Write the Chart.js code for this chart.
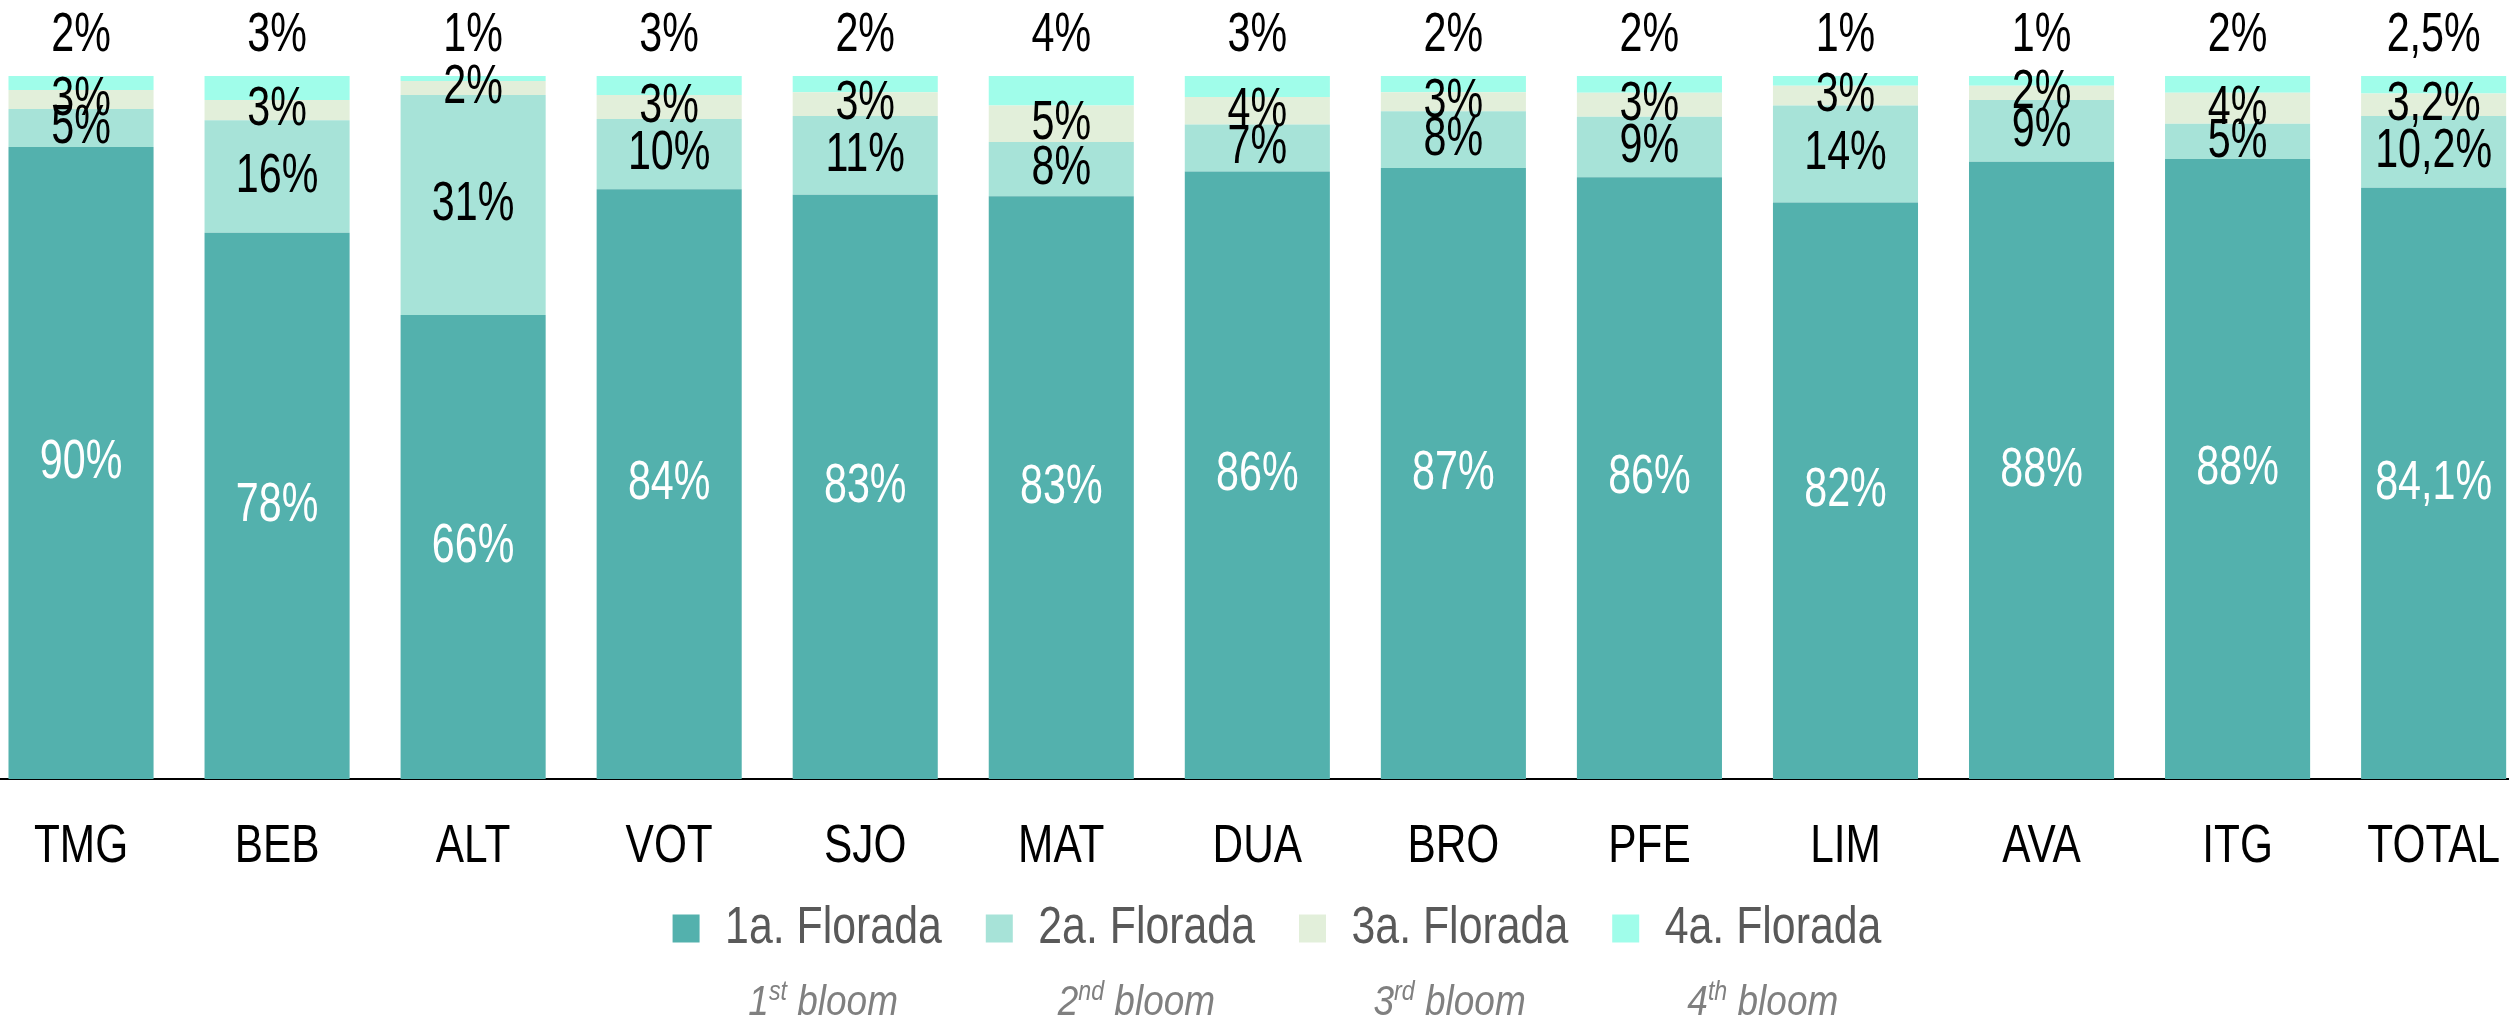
<!DOCTYPE html>
<html><head><meta charset="utf-8">
<script src="https://cdn.jsdelivr.net/npm/chart.js@4.4.1/dist/chart.umd.min.js"></script>
<style>
html,body{margin:0;padding:0;background:#fff;overflow:hidden;width:2509px;height:1020px;}
#wrap{position:absolute;left:-17px;top:0;width:2554px;height:1020px;}
</style></head><body>
<div id="wrap"><canvas id="c"></canvas></div>
<script>
const categories = ['TMG','BEB','ALT','VOT','SJO','MAT','DUA','BRO','PFE','LIM','AVA','ITG','TOTAL'];
const florada1 = [89.9,77.7,66.0,83.9,83.1,82.9,86.4,86.9,85.6,82.0,87.8,88.2,84.1];
const florada2 = [5.4,16.0,31.3,10.0,11.2,7.7,6.7,8.1,8.6,13.8,8.8,5.0,10.2];
const florada3 = [2.7,2.9,2.0,3.4,3.4,5.2,3.9,2.7,3.4,2.8,2.0,4.4,3.2];
const florada4 = [2.0,3.4,0.7,2.7,2.3,4.2,3.0,2.3,2.4,1.4,1.4,2.4,2.5];
const seriesNames = ['1a. Florada','2a. Florada','3a. Florada','4a. Florada'];
const bloomNumbers = ['1','2','3','4'];
const bloomSuffixes = ['st','nd','rd','th'];
const bloomWord = 'bloom';

const COLORS = ['#53B1AD','#A7E3D8','#E2EFDA','#A0FDEA'];
const LABEL_COLORS = ['#FFFFFF','#000000','#000000','#000000'];
const FONT = "'Liberation Sans',Arial,sans-serif";
// horizontal condensing per font size (to mimic the narrow typeface)
const SCALE_BY_SIZE = { 55: 0.75, 53: 0.80, 51: 0.84, 43: 0.86, 27: 0.86 };

const canvas = document.getElementById('c');
const c2d = canvas.getContext('2d');
const origFill = c2d.fillText.bind(c2d);
const origMeasure = c2d.measureText.bind(c2d);
function curScale(ctx){
  const m = /(\d+(?:\.\d+)?)px/.exec(ctx.font);
  const s = m ? Math.round(parseFloat(m[1])) : 0;
  return SCALE_BY_SIZE[s] || 0.8;
}
c2d.fillText = function(t, x, y){
  const sx = curScale(this);
  this.save();
  this.translate(x, y);
  this.scale(sx, 1);
  origFill(t, 0, 0);
  this.restore();
};
c2d.measureText = function(t){
  const sx = curScale(this);
  const m = origMeasure(t);
  return {
    width: m.width * sx,
    actualBoundingBoxAscent: m.actualBoundingBoxAscent,
    actualBoundingBoxDescent: m.actualBoundingBoxDescent,
    actualBoundingBoxLeft: m.actualBoundingBoxLeft * sx,
    actualBoundingBoxRight: m.actualBoundingBoxRight * sx,
    fontBoundingBoxAscent: m.fontBoundingBoxAscent,
    fontBoundingBoxDescent: m.fontBoundingBoxDescent
  };
};

function fmt(v, cat){
  if (cat === 'TOTAL') return v.toFixed(1).replace('.', ',') + '%';
  return Math.round(v) + '%';
}

const labelPlugin = {
  id: 'segLabels',
  afterDatasetsDraw(chart){
    const ctx = chart.ctx;
    ctx.save();
    ctx.font = '55px ' + FONT;
    ctx.textAlign = 'center';
    ctx.textBaseline = 'middle';
    chart.data.datasets.forEach((ds, di) => {
      const meta = chart.getDatasetMeta(di);
      meta.data.forEach((bar, i) => {
        const v = ds.data[i];
        let y;
        if (di === 3) y = bar.y - 40;
        else y = (bar.y + bar.base) / 2;
        ctx.fillStyle = LABEL_COLORS[di];
        ctx.fillText(fmt(v, categories[i]), bar.x, y);
      });
    });
    ctx.restore();
  }
};

// move the legend up (closer under the axis labels) and slightly right
const LEGEND_SHIFT_Y = 56;
const LEGEND_SHIFT_X = 17;
const legendShift = {
  id: 'legendShift',
  afterLayout(chart){
    const lg = chart.legend;
    if (!lg) return;
    lg.top -= LEGEND_SHIFT_Y;
    lg.bottom -= LEGEND_SHIFT_Y;
    lg.left += LEGEND_SHIFT_X;
    lg.right += LEGEND_SHIFT_X;
  }
};

const bloomPlugin = {
  id: 'bloomRow',
  afterDraw(chart){
    const lg = chart.legend;
    const boxes = lg && lg.legendHitBoxes;
    if (!boxes) return;
    const ctx = chart.ctx;
    ctx.save();
    ctx.fillStyle = '#808080';
    ctx.textBaseline = 'alphabetic';
    ctx.textAlign = 'left';
    const rowCenter = lg.top + lg.options.labels.padding + 25.5;
    boxes.forEach((hb, i) => {
      const big = 'italic 43px ' + FONT;
      const small = 'italic 27px ' + FONT;
      ctx.font = big;
      const w1 = ctx.measureText(bloomNumbers[i]).width;
      const w3 = ctx.measureText(' ' + bloomWord).width;
      ctx.font = small;
      const w2 = ctx.measureText(bloomSuffixes[i]).width;
      const total = w1 + w2 + w3;
      const cx = hb.left + hb.width / 2 + 16;
      const baseY = rowCenter + 86;
      let x = cx - total / 2;
      ctx.font = big;
      ctx.fillText(bloomNumbers[i], x, baseY);
      x += w1;
      ctx.font = small;
      ctx.fillText(bloomSuffixes[i], x, baseY - 15);
      x += w2;
      ctx.font = big;
      ctx.fillText(' ' + bloomWord, x, baseY);
    });
    ctx.restore();
  }
};

const seriesData = [florada1, florada2, florada3, florada4];

new Chart(canvas, {
  type: 'bar',
  data: {
    labels: categories,
    datasets: seriesData.map((d, i) => ({
      label: seriesNames[i],
      data: d,
      backgroundColor: COLORS[i],
      borderWidth: 0,
      categoryPercentage: 0.74,
      barPercentage: 1.0
    }))
  },
  options: {
    responsive: true,
    maintainAspectRatio: false,
    animation: false,
    devicePixelRatio: 1,
    layout: { padding: { top: 76, bottom: 0, left: 0, right: 0 } },
    plugins: {
      tooltip: { enabled: false },
      legend: {
        position: 'bottom',
        labels: {
          boxWidth: 27,
          boxHeight: 28,
          padding: 44,
          color: '#595959',
          font: { family: FONT, size: 51 }
        }
      }
    },
    scales: {
      x: {
        stacked: true,
        grid: { display: false, drawTicks: false },
        border: { display: true, color: '#000000', width: 2 },
        ticks: { color: '#000000', padding: 37, font: { family: FONT, size: 53 }, maxRotation: 0, autoSkip: false },
        afterFit(scale){ scale.height = 136; }
      },
      y: {
        stacked: true,
        display: false,
        min: 0,
        max: 100
      }
    }
  },
  plugins: [legendShift, labelPlugin, bloomPlugin]
});
</script>
</body></html>
